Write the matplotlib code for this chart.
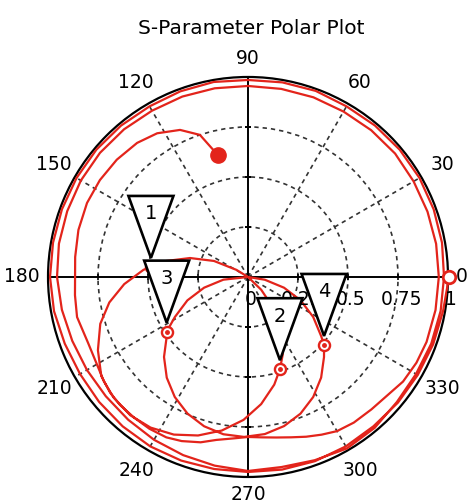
import numpy as np
import matplotlib.pyplot as plt
import matplotlib.transforms as mtransforms
from matplotlib.patches import Polygon

# S11 trace, phase (deg) and linear magnitude, split by sweep section
loop1_deg = [0, 350, 340, 330, 320, 310, 300, 290, 280, 270, 260, 250, 240, 230, 220,
             210, 200, 190, 180, 170, 160, 150, 140, 130, 120, 110, 100, 90, 80, 70,
             60, 50, 40, 30, 20, 10, 0]
loop1_mag = [1.005, 0.99, 0.985, 0.98, 0.978, 0.975, 0.978, 0.98, 0.978, 0.975, 0.975,
             0.977, 0.978, 0.975, 0.972, 0.97, 0.975, 0.985, 0.99, 0.99, 0.99, 0.99,
             0.99, 0.988, 0.985, 0.988, 0.99, 0.985, 0.988, 0.99, 0.985, 0.988, 0.99,
             0.99, 0.988, 0.985, 0.98]

loop2_deg = [350, 340, 330, 320, 310, 300, 290, 280, 270, 260, 250, 240, 230, 220, 210,
             200, 190, 180, 170, 160, 150, 140, 130, 120, 110, 100, 90, 80, 70, 60, 50,
             40, 30, 20, 10, 0]
loop2_mag = [0.978, 0.975, 0.97, 0.972, 0.985, 0.99, 0.975, 0.965, 0.97, 0.958, 0.948,
             0.94, 0.932, 0.928, 0.93, 0.935, 0.945, 0.955, 0.96, 0.962, 0.965, 0.966,
             0.964, 0.96, 0.96, 0.958, 0.955, 0.955, 0.956, 0.955, 0.958, 0.96, 0.956,
             0.955, 0.955, 0.954]

loop3_deg = [350, 340, 333, 326, 320, 313, 306, 300, 295, 290, 285, 280, 275, 270, 265,
             259, 254, 248, 243, 237, 231, 225, 220, 214]
loop3_mag = [0.952, 0.95, 0.945, 0.935, 0.915, 0.905, 0.90, 0.89, 0.87, 0.85, 0.83,
             0.815, 0.805, 0.80, 0.81, 0.83, 0.86, 0.885, 0.90, 0.905, 0.905, 0.905,
             0.90, 0.885]

resA_in_deg = [206, 197.6, 190.4, 183.3, 176.1, 174.1, 169.0, 161.9, 154.8, 148.4, 148]
resA_in_mag = [0.835, 0.775, 0.705, 0.62, 0.524, 0.488, 0.418, 0.305, 0.188, 0.0675, 0.0]

resB_deg = [350.7, 343.4, 336, 328.5, 321, 318.2, 313.5, 306, 298.5, 291, 283.6, 276.1,
            268.6, 261.1, 253.6, 246.1, 238.6, 231.1, 223.6, 216.1, 213.9, 208.7,
            201.1, 193.7, 186.3, 180]
resB_mag = [0.085, 0.188, 0.288, 0.382, 0.471, 0.51, 0.552, 0.622, 0.683, 0.732, 0.767,
            0.79, 0.80, 0.796, 0.778, 0.747, 0.703, 0.647, 0.58, 0.503, 0.49, 0.417,
            0.325, 0.226, 0.124, 0.0]

resA_out_deg = [315.9, 309, 301.6, 294, 289.1, 283.7, 275.9, 268.2, 260.3, 252.5,
                244.8, 237.1, 229.6, 222]
resA_out_mag = [0.092, 0.208, 0.32, 0.426, 0.488, 0.554, 0.639, 0.715, 0.779, 0.831,
                0.871, 0.897, 0.908, 0.903]

tail_deg = [216, 211, 202.4, 193.2, 186, 180, 173.4, 164.5, 155.3, 146.8, 138.2,
            129.6, 122.3, 114.8, 108.7, 104]
tail_mag = [0.89, 0.875, 0.865, 0.878, 0.87, 0.865, 0.87, 0.88, 0.886, 0.885, 0.88,
            0.87, 0.85, 0.81, 0.75, 0.63]

# numbered markers
mark_ids = ['1', '2', '3', '4']
mark_deg = [174.1, 289.1, 213.9, 318.2]
mark_mag = [0.488, 0.488, 0.49, 0.51]

angle_ticks = [0, 30, 60, 90, 120, 150, 180, 210, 240, 270, 300, 330]
radial_ticks = [0, 0.25, 0.5, 0.75, 1]
radial_labels = ['0', '0.25', '0.5', '0.75', '1']

red = '#e3241b'
grid_c = '#333333'

phase = np.deg2rad(np.concatenate([loop1_deg, loop2_deg, loop3_deg, resA_in_deg,
                                   resB_deg, resA_out_deg, tail_deg]))
mag = np.concatenate([loop1_mag, loop2_mag, loop3_mag, resA_in_mag,
                      resB_mag, resA_out_mag, tail_mag])

fig = plt.figure(figsize=(4.68, 5.04), dpi=100)
ax = fig.add_axes([0.1026, 0.0536, 0.8547, 0.7937], projection='polar')
ax.set_ylim(0, 1)
ax.set_rgrids([0.25, 0.5, 0.75], labels=[])
ax.set_thetagrids([30, 60, 120, 150, 210, 240, 300, 330], labels=[])
ax.grid(True, color=grid_c, lw=1.2, ls=(0, (2.6, 2.4)))
ax.tick_params(length=0)
ax.spines['polar'].set_linewidth(1.6)
ax.spines['polar'].set_color('black')

# solid cross axes
ax.plot(np.deg2rad([0, 180]), [1, 1], color='black', lw=1.4, zorder=2)
ax.plot(np.deg2rad([90, 270]), [1, 1], color='black', lw=1.4, zorder=2)
for a, m in [(0, '|'), (180, '|'), (90, '_'), (270, '_')]:
    ax.plot(np.deg2rad([a] * 3), [0.25, 0.5, 0.75], ls='none', marker=m,
            ms=5, mew=1.2, color='black', zorder=2)

ax.plot(phase, mag, color=red, lw=1.6, zorder=3, clip_on=False)

# start / stop points
ax.plot(phase[0], mag[0], 'o', ms=9, mfc='white', mec=red, mew=2, zorder=4, clip_on=False)
ax.plot(phase[-1], mag[-1], 'o', ms=11, color=red, zorder=4)

mk = np.deg2rad(mark_deg)
ax.plot(mk, mark_mag, 'o', ms=8, mfc='white', mec=red, mew=1.7, zorder=4)
ax.plot(mk, mark_mag, 'o', ms=2.5, color=red, zorder=4)

# angle labels
for a in angle_ticks:
    s = str(a)
    c, sn = np.cos(np.deg2rad(a)), np.sin(np.deg2rad(a))
    if a % 90:
        d = 24
    else:
        d = 8 + abs(c) * 6.0 * len(s) + abs(sn) * 10
    ax.annotate(s, xy=(np.deg2rad(a), 1.0), xytext=(d * c, d * sn),
                textcoords='offset pixels', ha='center', va='center',
                fontsize=13.5, annotation_clip=False)

# radial labels
for rv, s in zip(radial_ticks, radial_labels):
    ax.annotate(s, xy=(0, rv), xytext=(3, -23), textcoords='offset pixels',
                ha='center', va='center', fontsize=13.5, annotation_clip=False)

# marker flags
tri = [(0, 0.09), (-0.225, 0.71), (0.225, 0.71)]
for lab, a, rv in zip(mark_ids, mk, mark_mag):
    tr = fig.dpi_scale_trans + mtransforms.ScaledTranslation(a, rv, ax.transData)
    fig.add_artist(Polygon(tri, closed=True, facecolor='white', edgecolor='black',
                           lw=1.9, transform=tr, zorder=5))
    fig.text(0, 0.53, lab, transform=tr, ha='center', va='center',
             fontsize=14, zorder=6)

fig.text(0.536, 1 - 28 / 504, 'S-Parameter Polar Plot', ha='center', va='center',
         fontsize=14.5)

fig.savefig('out.png')
